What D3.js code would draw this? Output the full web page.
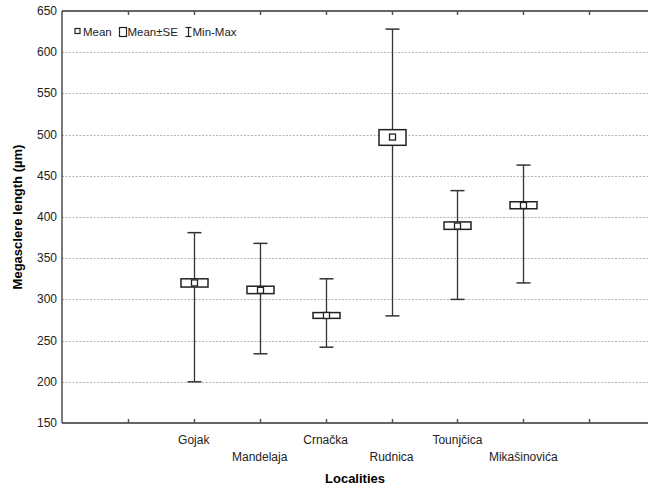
<!DOCTYPE html>
<html>
<head>
<meta charset="utf-8">
<script src="https://cdn.jsdelivr.net/npm/d3@7"></script>
<style>
  body { margin: 0; background: #fff; }
  svg { display: block; font-family: "Liberation Sans", Arial, sans-serif; }
</style>
</head>
<body>
<svg id="chart" width="648" height="488"></svg>
<script>
"use strict";
// values
const localities = ["Gojak", "Mandelaja", "Crnačka", "Rudnica", "Tounjčica", "Mikašinovića"];
const means  = [320, 311, 280.5, 497, 389, 414];
const seLow  = [315, 307, 277, 487, 385, 410];
const seHigh = [325, 316, 284, 506, 394, 418.5];
const mins   = [200, 234, 242, 280, 300, 320];
const maxs   = [381, 368, 325, 628, 432, 463];
const yTicks = [150, 200, 250, 300, 350, 400, 450, 500, 550, 600, 650];
const xTicks = [1, 2, 3, 4, 5, 6, 7, 8];
const legendItems = ["Mean", "Mean±SE", "Min-Max"];

const svg = d3.select("#chart");
const W = 648;
const plotLeft = 62, plotTop = 11, plotBottom = 423;

const x = d3.scaleLinear().domain([0, 9]).range([plotLeft, plotLeft + 9 * 65.9]);
const y = d3.scaleLinear().domain([150, 650]).range([plotBottom, plotTop]);

// grid
svg.append("g").selectAll("line")
    .data(yTicks.filter(d => d > 150 && d < 650))
    .join("line")
    .attr("x1", plotLeft).attr("x2", W)
    .attr("y1", d => Math.round(y(d)) + 0.5).attr("y2", d => Math.round(y(d)) + 0.5)
    .attr("stroke", "#b4b4b4")
    .attr("stroke-dasharray", "2,1.5");

// frame (left, top, bottom)
const frame = svg.append("g").attr("stroke", "#333").attr("stroke-width", 1.3);
frame.append("line").attr("x1", plotLeft).attr("x2", plotLeft).attr("y1", plotTop).attr("y2", plotBottom);
frame.append("line").attr("x1", plotLeft).attr("x2", W).attr("y1", plotTop).attr("y2", plotTop);
frame.append("line").attr("x1", plotLeft).attr("x2", W).attr("y1", plotBottom).attr("y2", plotBottom);

// inward x ticks, top and bottom
svg.append("g").selectAll("line")
    .data(xTicks)
    .join("line")
    .attr("x1", d => Math.round(x(d)) + 0.5).attr("x2", d => Math.round(x(d)) + 0.5)
    .attr("y1", plotBottom).attr("y2", plotBottom - 4)
    .attr("stroke", "#555").attr("stroke-width", 1.5);
svg.append("g").selectAll("line")
    .data(xTicks)
    .join("line")
    .attr("x1", d => Math.round(x(d)) + 0.5).attr("x2", d => Math.round(x(d)) + 0.5)
    .attr("y1", plotTop).attr("y2", plotTop + 4)
    .attr("stroke", "#555").attr("stroke-width", 1.5);

// y tick labels
svg.append("g").selectAll("text")
    .data(yTicks)
    .join("text")
    .attr("x", 57).attr("y", d => y(d) + 4)
    .attr("text-anchor", "end")
    .attr("font-size", 12)
    .attr("fill", "#222")
    .text(d => d);

// x category labels, staggered
svg.append("g").selectAll("text")
    .data(localities)
    .join("text")
    .attr("x", (d, i) => x(i + 2))
    .attr("y", (d, i) => i % 2 === 0 ? 444 : 461)
    .attr("text-anchor", "middle")
    .attr("font-size", 12)
    .attr("fill", "#222")
    .text(d => d);

// axis titles
svg.append("text")
    .attr("x", 355).attr("y", 483)
    .attr("text-anchor", "middle")
    .attr("font-size", 13).attr("font-weight", "bold")
    .text("Localities");
svg.append("text")
    .attr("transform", `translate(22, ${(plotTop + plotBottom) / 2}) rotate(-90)`)
    .attr("text-anchor", "middle")
    .attr("font-size", 13).attr("font-weight", "bold")
    .text("Megasclere length (µm)");

// whiskers and boxes
const g = svg.append("g");
localities.forEach((name, i) => {
    const cx = Math.round(x(i + 2)) + 0.5;
    g.append("line")
        .attr("x1", cx).attr("x2", cx)
        .attr("y1", y(mins[i])).attr("y2", y(maxs[i]))
        .attr("stroke", "#333").attr("stroke-width", 1.3);
    [mins[i], maxs[i]].forEach(v => {
        g.append("line")
            .attr("x1", cx - 7).attr("x2", cx + 7)
            .attr("y1", y(v)).attr("y2", y(v))
            .attr("stroke", "#333").attr("stroke-width", 1.5);
    });
    g.append("rect")
        .attr("x", cx - 13.5).attr("y", y(seHigh[i]))
        .attr("width", 27).attr("height", y(seLow[i]) - y(seHigh[i]))
        .attr("fill", "#fff").attr("stroke", "#222").attr("stroke-width", 1.5);
    g.append("rect")
        .attr("x", cx - 3).attr("y", y(means[i]) - 3)
        .attr("width", 6).attr("height", 6)
        .attr("fill", "#fff").attr("stroke", "#222").attr("stroke-width", 1.3);
});

// legend
const lg = svg.append("g").attr("font-size", 11.5).attr("fill", "#222");
lg.append("rect").attr("x", 75).attr("y", 28.5).attr("width", 5).attr("height", 5)
    .attr("fill", "#fff").attr("stroke", "#222").attr("stroke-width", 1.2);
lg.append("text").attr("x", 83).attr("y", 36).text(legendItems[0]);
lg.append("rect").attr("x", 119.5).attr("y", 27.5).attr("width", 7).attr("height", 9)
    .attr("fill", "#fff").attr("stroke", "#222").attr("stroke-width", 1.2);
lg.append("text").attr("x", 127.5).attr("y", 36).text(legendItems[1]);
const ib = lg.append("g").attr("stroke", "#222").attr("stroke-width", 1.2);
ib.append("line").attr("x1", 185.5).attr("x2", 191.5).attr("y1", 27.5).attr("y2", 27.5);
ib.append("line").attr("x1", 185.5).attr("x2", 191.5).attr("y1", 36.5).attr("y2", 36.5);
ib.append("line").attr("x1", 188.5).attr("x2", 188.5).attr("y1", 27.5).attr("y2", 36.5);
lg.append("text").attr("x", 192.5).attr("y", 36).text(legendItems[2]);
</script>
</body>
</html>
